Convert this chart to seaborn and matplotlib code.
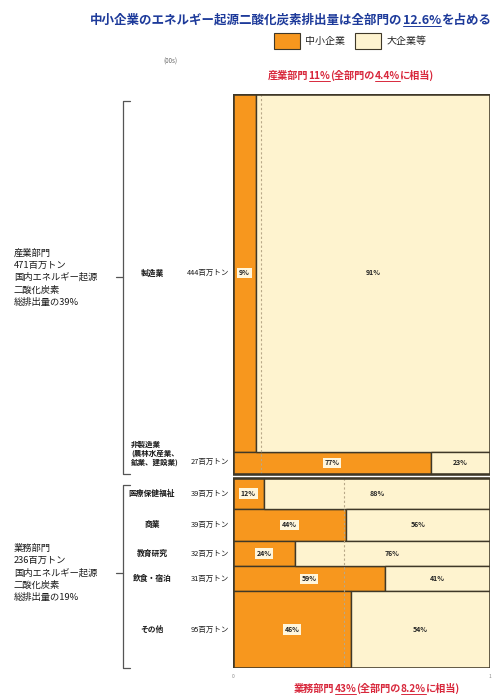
import numpy as np
import pandas as pd
import seaborn as sns
import matplotlib.pyplot as plt
import matplotlib.transforms as mtransforms
from matplotlib.lines import Line2D
from matplotlib.patches import Patch, Rectangle

sns.set_theme(style="white")
plt.rcParams['font.family'] = ['Noto Sans CJK JP', 'DejaVu Sans']

# ---------------- data ----------------
categories = ["製造業", "非製造業\n(農林水産業、\n鉱業、建設業)", "医療保健福祉", "商業",
              "教育研究", "飲食・宿泊", "その他"]
emissions_mt = [444, 27, 39, 39, 32, 31, 95]
emission_labels = ["444百万トン", "27百万トン", "39百万トン", "39百万トン",
                   "32百万トン", "31百万トン", "95百万トン"]
sme_pct = [9, 77, 12, 44, 24, 59, 46]
large_pct = [91, 23, 88, 56, 76, 41, 54]
sector_of = ["産業", "産業", "業務", "業務", "業務", "業務", "業務"]
sectors = ["産業", "業務"]
sector_texts = ["産業部門\n471百万トン\n国内エネルギー起源\n二酸化炭素\n総排出量の39%",
                "業務部門\n236百万トン\n国内エネルギー起源\n二酸化炭素\n総排出量の19%"]
sector_sme_pct = [11, 43]
sector_notes = [[("産業部門", False), ("11%", True), ("(全部門の", False), ("4.4%", True), ("に相当)", False)],
                [("業務部門", False), ("43%", True), ("(全部門の", False), ("8.2%", True), ("に相当)", False)]]
title_parts = [("中小企業のエネルギー起源二酸化炭素排出量は全部門の", False), ("12.6%", True), ("を占める", False)]
legend_labels = ["中小企業", "大企業等"]

ORANGE = "#F7971E"
CREAM = "#FEF3CF"
EDGE = "#3f3828"

W, H = 495, 698
fig = plt.figure(figsize=(W / 100, H / 100), dpi=100)
fig.patch.set_facecolor("white")
ax = fig.add_axes([233 / W, 1 - 668 / H, (490 - 233) / W, (668 - 94) / H])

# ---------- layout rows (data units = Mt) ----------
gap = 5
tops = []
y = 0
for i, em in enumerate(emissions_mt):
    if i > 0 and sector_of[i] != sector_of[i - 1]:
        y += gap
    tops.append(y)
    y += em
total = y
df = pd.DataFrame({"cat": categories, "em": emissions_mt, "sme": sme_pct,
                   "large": large_pct, "sector": sector_of, "top": tops})
df["center"] = df["top"] + df["em"] / 2

ax.barh(df["center"], df["sme"], height=df["em"], left=0, color=ORANGE,
        edgecolor=EDGE, linewidth=1.0, zorder=2)
ax.barh(df["center"], df["large"], height=df["em"], left=df["sme"], color=CREAM,
        edgecolor=EDGE, linewidth=1.0, zorder=2)

ax.set_xlim(0, 100)
ax.set_ylim(total, 0)
ax.axis("off")

# sector outlines, dashed share lines
sec_span = {}
for s, share in zip(sectors, sector_sme_pct):
    sub = df[df["sector"] == s]
    top = sub["top"].min()
    bot = (sub["top"] + sub["em"]).max()
    sec_span[s] = (top, bot)
    ax.add_patch(Rectangle((0, top), 100, bot - top, fill=False, ec=EDGE, lw=1.8, zorder=4))
    ax.plot([share, share], [top, bot], color="#b8a888", lw=0.8, ls=(0, (2, 2)), zorder=3)

# percentage labels
for _, r in df.iterrows():
    ax.text(r["sme"] / 2, r["center"], f"{r['sme']}%", ha="center", va="center",
            fontsize=5, fontweight="bold", color="#222222", zorder=5,
            bbox=dict(boxstyle="square,pad=0.25", fc="#fff6dc", ec="none"))
    ax.text(r["sme"] + r["large"] / 2, r["center"], f"{r['large']}%", ha="center",
            va="center", fontsize=5, fontweight="bold", color="#222222", zorder=5)

# row labels on the left
tr = mtransforms.blended_transform_factory(fig.transFigure, ax.transData)
for i, r in df.iterrows():
    if "\n" in r["cat"]:
        ax.text(131 / W, r["center"] + 4, r["cat"], transform=tr, ha="left", va="bottom",
                fontsize=5.4, fontweight="bold", color="#1a1a1a", linespacing=1.3)
        ax.text(229 / W, r["center"] + 4, emission_labels[i], transform=tr, ha="right",
                va="bottom", fontsize=5.4, color="#1a1a1a")
    else:
        ax.text(152 / W, r["center"], r["cat"], transform=tr, ha="center", va="center",
                fontsize=5.6, fontweight="bold", color="#1a1a1a")
        ax.text(229 / W, r["center"], emission_labels[i], transform=tr, ha="right",
                va="center", fontsize=5.4, color="#1a1a1a")

# brackets and sector texts
for s, txt in zip(sectors, sector_texts):
    top, bot = sec_span[s]
    xb, xh = 123 / W, 130 / W
    ax.add_line(Line2D([xh, xb, xb, xh], [top + 9, top + 9, bot, bot], transform=tr,
                       color="#555555", lw=0.9, clip_on=False))
    mid = (top + bot) / 2 - (8 if s == "産業" else 0)
    ax.add_line(Line2D([116 / W, xb], [mid, mid], transform=tr, color="#555555",
                       lw=0.9, clip_on=False))
    ax.text(14 / W, mid, txt, transform=tr, ha="left", va="center", fontsize=6.7,
            color="#1a1a1a", linespacing=1.45)

# ---------- helper for text with underlined parts ----------
renderer = fig.canvas.get_renderer()


def seg_text(x, y, parts, color, size, weight="bold"):
    cur = x
    for s, ul in parts:
        t = fig.text(cur / W, 1 - y / H, s, ha="left", va="baseline", fontsize=size,
                     color=color, fontweight=weight)
        bb = t.get_window_extent(renderer)
        if ul:
            fig.add_artist(Line2D([bb.x0 / W, bb.x1 / W], [1 - (y + 2) / H] * 2,
                                  color=color, lw=0.7))
        cur += bb.width


seg_text(90, 24, title_parts, "#1d3a9a", 9.0)
seg_text(268, 79, sector_notes[0], "#d8283c", 7.3)
seg_text(294, 692, sector_notes[1], "#d8283c", 7.3)

fig.text(170 / W, 1 - 62 / H, "(00s)", fontsize=4.5, color="#666666", ha="center", va="center")
fig.text(233 / W, 1 - 676 / H, "0", fontsize=3.5, color="#888888", ha="center", va="center")
fig.text(490 / W, 1 - 676 / H, "1", fontsize=3.5, color="#888888", ha="center", va="center")

handles = [Patch(fc=ORANGE, ec=EDGE, lw=0.8), Patch(fc=CREAM, ec=EDGE, lw=0.8)]
fig.legend(handles, legend_labels, ncol=2, loc="center",
           bbox_to_anchor=(350 / W, 1 - 41 / H), frameon=False, fontsize=7.2,
           handlelength=2.6, handleheight=2.1, handletextpad=0.6, columnspacing=0.9)

fig.savefig("out.png", dpi=100)
